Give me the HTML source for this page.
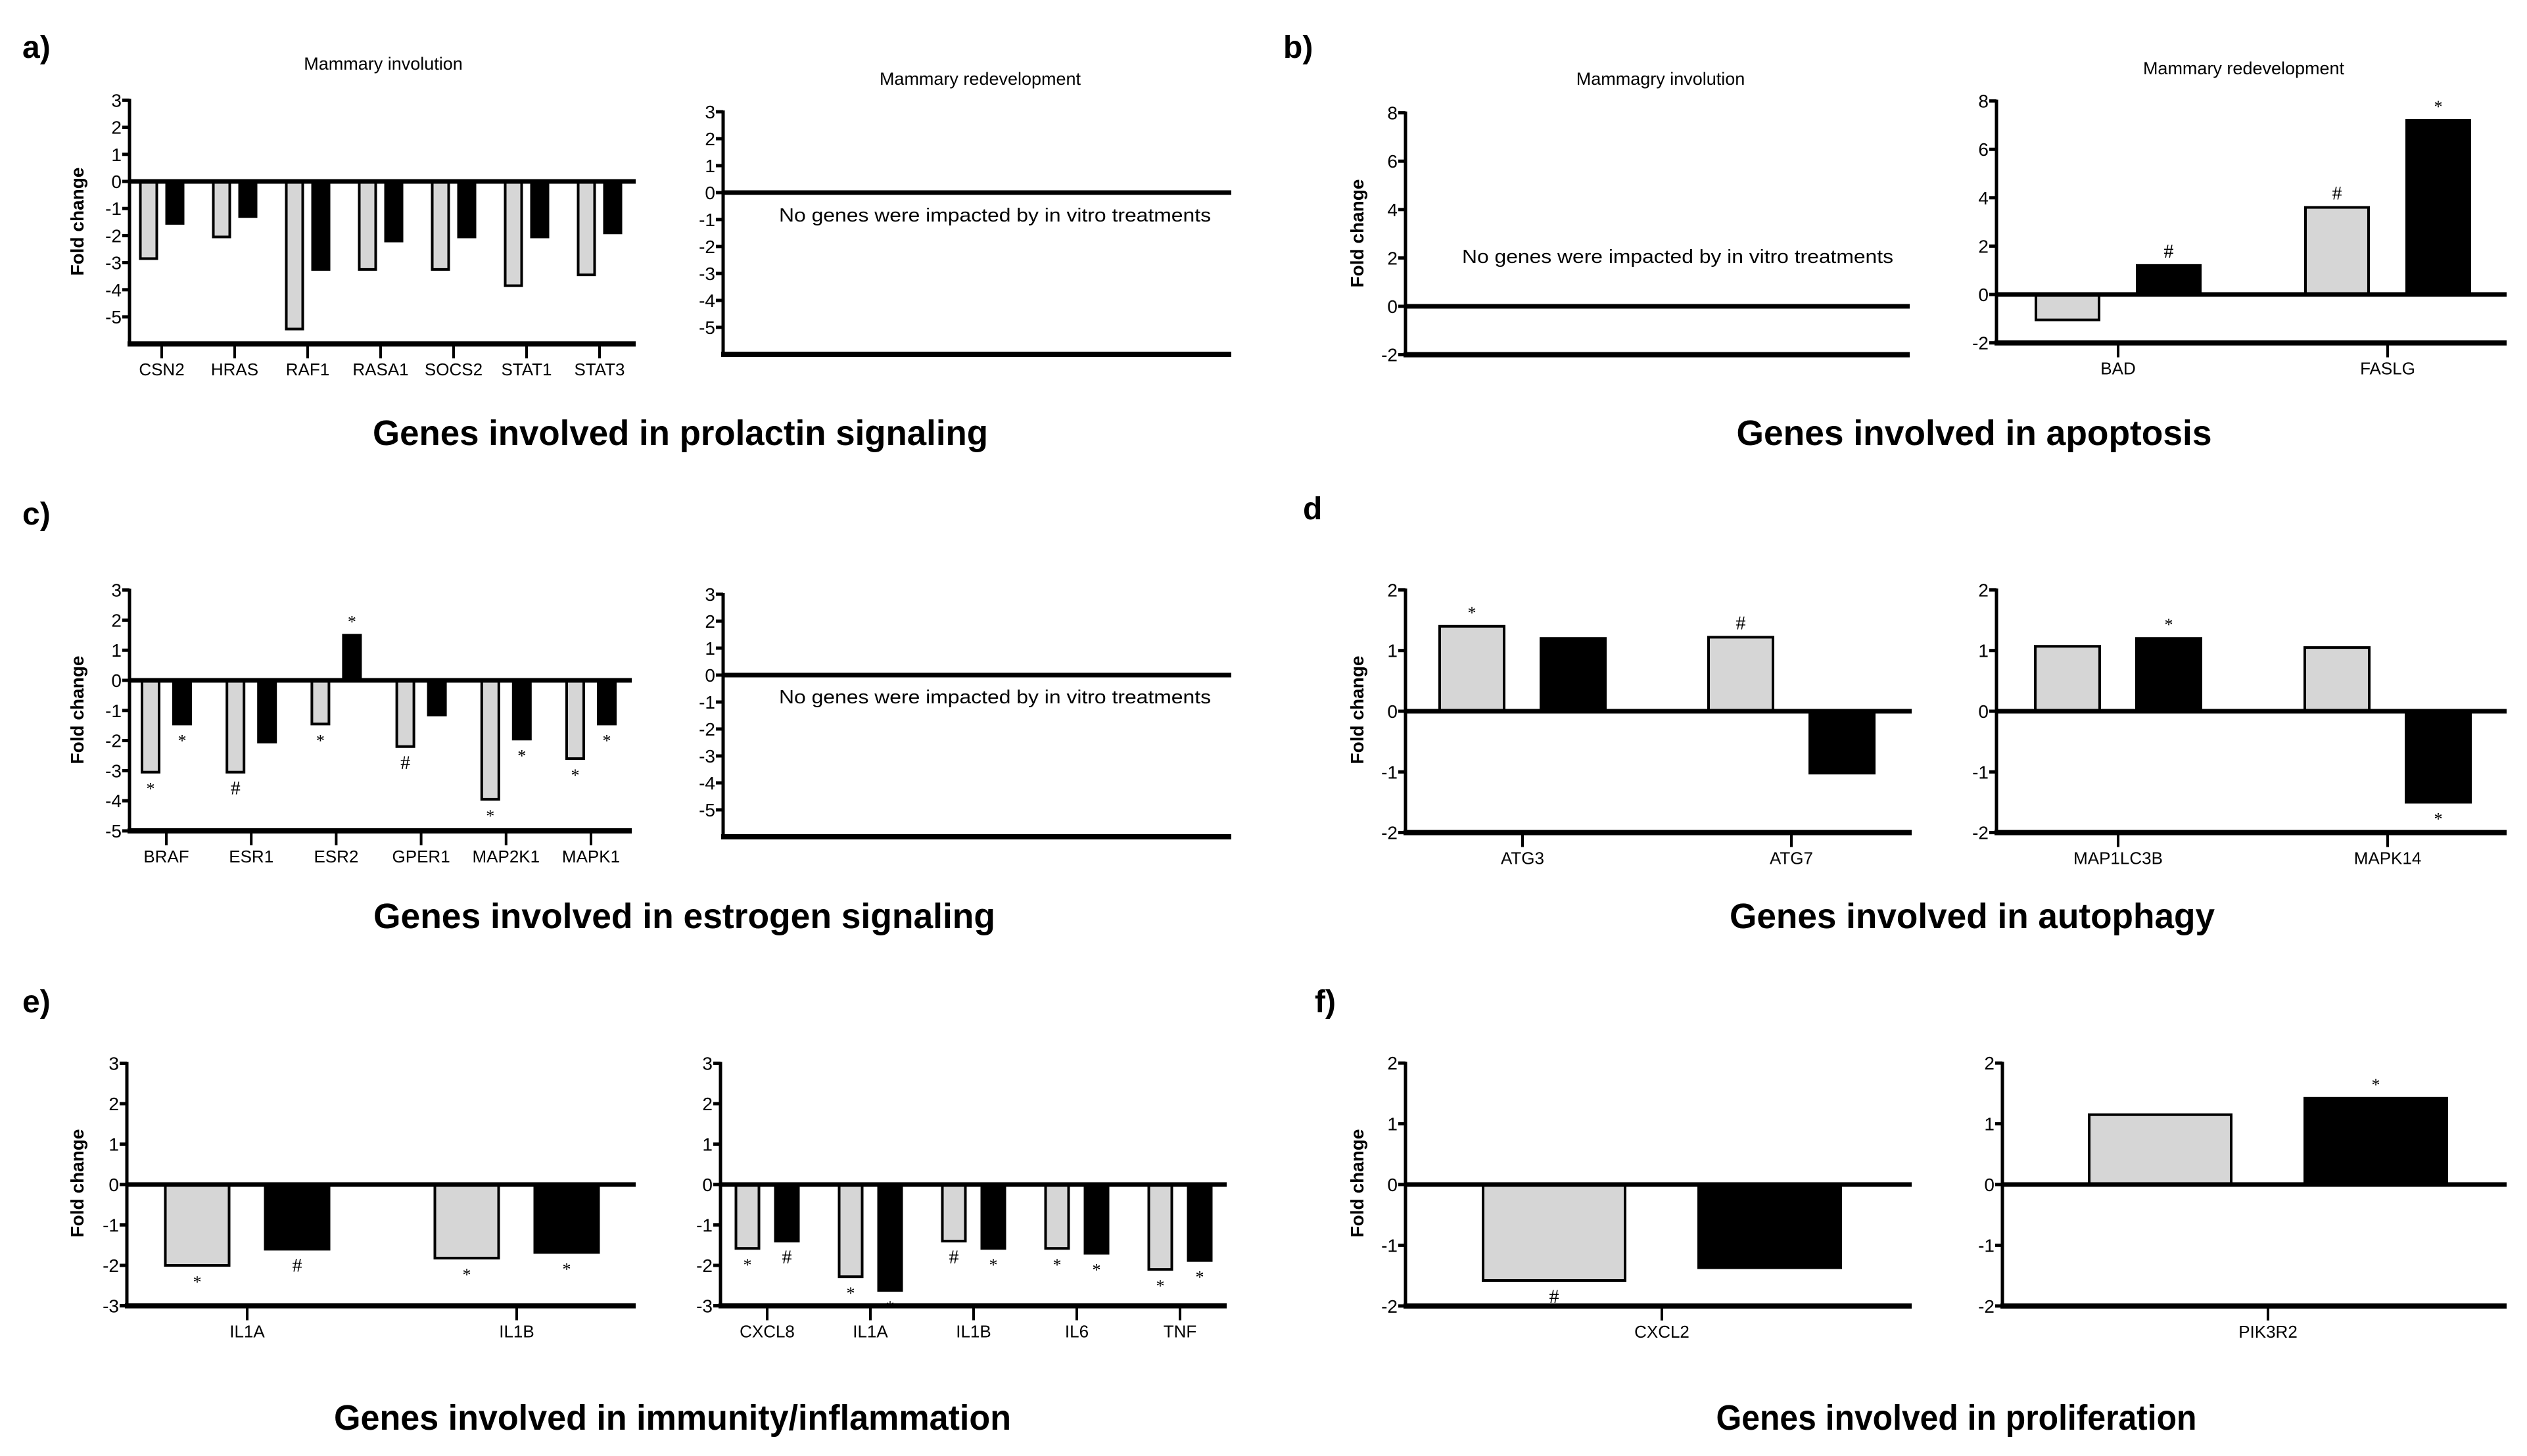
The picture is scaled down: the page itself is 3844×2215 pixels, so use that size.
<!DOCTYPE html>
<html><head><meta charset="utf-8">
<style>
html,body{margin:0;padding:0;background:#fff;}
svg{display:block;font-family:"Liberation Sans",Arial,sans-serif;}
</style></head>
<body>
<svg id="fig" xmlns="http://www.w3.org/2000/svg" width="3844" height="2215" viewBox="0 0 3844 2215">
<rect x="0" y="0" width="3844" height="2215" fill="#fff"/>
<g font-weight="bold" font-size="48" fill="#000">
<text x="34" y="88">a)</text>
<text x="1952" y="88">b)</text>
<text x="34" y="798">c)</text>
<text x="1982" y="790">d</text>
<text x="34" y="1540">e)</text>
<text x="2000" y="1540">f)</text>
</g>
<g font-weight="bold" font-size="54" fill="#000" text-anchor="middle">
<text x="1035" y="677" textLength="936" lengthAdjust="spacingAndGlyphs">Genes involved in prolactin signaling</text>
<text x="3003" y="677" textLength="723" lengthAdjust="spacingAndGlyphs">Genes involved in apoptosis</text>
<text x="1041" y="1412" textLength="946" lengthAdjust="spacingAndGlyphs">Genes involved in estrogen signaling</text>
<text x="3000" y="1412" textLength="738" lengthAdjust="spacingAndGlyphs">Genes involved in autophagy</text>
<text x="1023" y="2175" textLength="1030" lengthAdjust="spacingAndGlyphs">Genes involved in immunity/inflammation</text>
<text x="2976" y="2175" textLength="731" lengthAdjust="spacingAndGlyphs">Genes involved in proliferation</text>
</g>
<g font-size="27" fill="#000" text-anchor="middle">
<text x="583" y="106">Mammary involution</text>
<text x="1491" y="129">Mammary redevelopment</text>
<text x="2526" y="129">Mammagry involution</text>
<text x="3413" y="113">Mammary redevelopment</text>
</g>
<g font-weight="bold" font-size="28" fill="#000" text-anchor="middle">
<text transform="translate(127,337) rotate(-90)">Fold change</text>
<text transform="translate(2074,355) rotate(-90)">Fold change</text>
<text transform="translate(127,1080) rotate(-90)">Fold change</text>
<text transform="translate(2074,1080) rotate(-90)">Fold change</text>
<text transform="translate(127,1800) rotate(-90)">Fold change</text>
<text transform="translate(2074,1800) rotate(-90)">Fold change</text>
</g>
<g id="charts"></g>
</svg>
<script>
// ---- data ----
const catsA1 = ["CSN2","HRAS","RAF1","RASA1","SOCS2","STAT1","STAT3"];
const grayA1 = [-2.85,-2.05,-5.45,-3.25,-3.25,-3.85,-3.45];
const blackA1 = [-1.55,-1.3,-3.25,-2.2,-2.05,-2.05,-1.9];
const annGA1 = ["","","","","","",""];
const annBA1 = ["","","","","","",""];
const ticksA = [3,2,1,0,-1,-2,-3,-4,-5];

const ticksB = [8,6,4,2,0,-2];
const catsB2 = ["BAD","FASLG"];
const grayB2 = [-1.05,3.6];
const blackB2 = [1.2,7.2];
const annGB2 = ["","#"];
const annBB2 = ["#","*"];

const catsC1 = ["BRAF","ESR1","ESR2","GPER1","MAP2K1","MAPK1"];
const grayC1 = [-3.05,-3.05,-1.45,-2.2,-3.95,-2.6];
const blackC1 = [-1.45,-2.05,1.5,-1.15,-1.95,-1.45];
const annGC1 = ["*","#","*","#","*","*"];
const annBC1 = ["*","","*","","*","*"];

const ticksD = [2,1,0,-1,-2];
const catsD1 = ["ATG3","ATG7"];
const grayD1 = [1.4,1.22];
const blackD1 = [1.2,-1.02];
const annGD1 = ["*","#"];
const annBD1 = ["",""];
const catsD2 = ["MAP1LC3B","MAPK14"];
const grayD2 = [1.07,1.05];
const blackD2 = [1.2,-1.5];
const annGD2 = ["",""];
const annBD2 = ["*","*"];

const ticksE = [3,2,1,0,-1,-2,-3];
const catsE1 = ["IL1A","IL1B"];
const grayE1 = [-2.0,-1.82];
const blackE1 = [-1.6,-1.68];
const annGE1 = ["*","*"];
const annBE1 = ["#","*"];
const catsE2 = ["CXCL8","IL1A","IL1B","IL6","TNF"];
const grayE2 = [-1.58,-2.28,-1.4,-1.58,-2.1];
const blackE2 = [-1.4,-2.62,-1.58,-1.7,-1.88];
const annGE2 = ["*","*","#","*","*"];
const annBE2 = ["#","*","*","*","*"];

const ticksF = [2,1,0,-1,-2];
const catsF1 = ["CXCL2"];
const grayF1 = [-1.58];
const blackF1 = [-1.37];
const annGF1 = ["#"];
const annBF1 = [""];
const catsF2 = ["PIK3R2"];
const grayF2 = [1.15];
const blackF2 = [1.42];
const annGF2 = [""];
const annBF2 = ["*"];

const NS = "http://www.w3.org/2000/svg";
const root = document.getElementById("charts");
function mk(tag, attrs, parent){
  const e = document.createElementNS(NS, tag);
  for (const k in attrs) e.setAttribute(k, attrs[k]);
  (parent||root).appendChild(e);
  return e;
}
function chart(id, L, cats, gray, black, annG, annB, ticks, msg){
  const g = mk("g", {});
  
  
  const yMax = ticks[0];
  const y = v => L.zero - v * L.unit;
  const yBottom = y(L.yMin);
  const xc = i => L.first + i * L.step;
  const ax = mk("line", {x1:L.x0, x2:L.x0, y1:y(yMax)-2, y2:yBottom, stroke:"#000", "stroke-width":5}, g);
  
  
  ticks.forEach(t => {
    const tk = mk("line", {x1:L.x0-11, x2:L.x0, y1:y(t), y2:y(t), stroke:"#000", "stroke-width":5}, g);
    
    
    const tl = mk("text", {x:L.x0-12, y:y(t)+10, "font-size":28, "text-anchor":"end"}, g);
    tl.textContent = String(t);
    
    
  });
  cats.forEach((c, i) => {
    const cx = xc(i);
    [[gray[i], -L.off, "#d6d6d6", annG[i], "gray"], [black[i], L.off, "#000", annB[i], "black"]].forEach(([v, o, fill, an, nm]) => {
      const top = Math.min(y(0), y(v)), h = Math.abs(y(v) - y(0));
      const r = mk("rect", {x:cx+o-L.bw/2, y:top, width:L.bw, height:h, fill:fill, stroke:"#000", "stroke-width":4}, g);
      
      
      if (an) {
        const ay = v >= 0 ? y(v) - 12 : y(v) + 34;
        const at = mk("text", {x:cx+o, y:ay, "font-size": an === "#" ? 30 : 26, "text-anchor":"middle", "font-family":"Liberation Serif, serif"}, g);
        at.textContent = an;
        
        
      }
    });
    const ct = mk("line", {x1:cx, x2:cx, y1:yBottom, y2:yBottom+22, stroke:"#000", "stroke-width":4}, g);
    
    
    const cl = mk("text", {x:cx, y:yBottom+48, "font-size":26, "text-anchor":"middle"}, g);
    cl.textContent = c;
    
    
  });
  const zl = mk("line", {x1:L.x0, x2:L.x1, y1:y(0), y2:y(0), stroke:"#000", "stroke-width":7}, g);
  
  
  const bl = mk("line", {x1:L.x0-3, x2:L.x1, y1:yBottom, y2:yBottom, stroke:"#000", "stroke-width":8}, g);
  
  
  if (msg) {
    const m = mk("text", {x:msg.x, y:msg.y, "font-size":29, textLength:msg.w, lengthAdjust:"spacingAndGlyphs"}, g);
    m.textContent = "No genes were impacted by in vitro treatments";
    
    
  }
}
chart("chart-a-involution", {x0:197,x1:967,zero:276,unit:41.2,yMin:-6,first:246,step:111,bw:25,off:20}, catsA1, grayA1, blackA1, annGA1, annBA1, ticksA);
chart("chart-a-redevelopment", {x0:1100,x1:1873,zero:293,unit:41,yMin:-6,first:0,step:0,bw:0,off:0}, [], [], [], [], [], ticksA, {x:1185,y:337,w:657});
chart("chart-b-involution", {x0:2138,x1:2905,zero:466,unit:36.8,yMin:-2,first:0,step:0,bw:0,off:0}, [], [], [], [], [], ticksB, {x:2224,y:400,w:656});
chart("chart-b-redevelopment", {x0:3037,x1:3813,zero:448,unit:36.8,yMin:-2,first:3222,step:410,bw:96,off:77}, catsB2, grayB2, blackB2, annGB2, annBB2, ticksB);
chart("chart-c-involution", {x0:197,x1:961,zero:1035,unit:45.8,yMin:-5,first:253,step:129.2,bw:26,off:24}, catsC1, grayC1, blackC1, annGC1, annBC1, ticksA);
chart("chart-c-redevelopment", {x0:1100,x1:1873,zero:1027,unit:41,yMin:-6,first:0,step:0,bw:0,off:0}, [], [], [], [], [], ticksA, {x:1185,y:1070,w:657});
chart("chart-d-left", {x0:2138,x1:2908,zero:1082,unit:92.3,yMin:-2,first:2316,step:409,bw:98,off:77}, catsD1, grayD1, blackD1, annGD1, annBD1, ticksD);
chart("chart-d-right", {x0:3037,x1:3813,zero:1082,unit:92.3,yMin:-2,first:3222,step:410,bw:98,off:77}, catsD2, grayD2, blackD2, annGD2, annBD2, ticksD);
chart("chart-e-left", {x0:193,x1:967,zero:1802,unit:61.5,yMin:-3,first:376,step:410,bw:97,off:76}, catsE1, grayE1, blackE1, annGE1, annBE1, ticksE);
chart("chart-e-right", {x0:1096,x1:1866,zero:1802,unit:61.5,yMin:-3,first:1167,step:157,bw:35,off:30}, catsE2, grayE2, blackE2, annGE2, annBE2, ticksE);
chart("chart-f-left", {x0:2138,x1:2908,zero:1802,unit:92.4,yMin:-2,first:2528,step:0,bw:216,off:164}, catsF1, grayF1, blackF1, annGF1, annBF1, ticksF);
chart("chart-f-right", {x0:3046,x1:3813,zero:1802,unit:92.4,yMin:-2,first:3450,step:0,bw:216,off:164}, catsF2, grayF2, blackF2, annGF2, annBF2, ticksF);
</script>
</body></html>
